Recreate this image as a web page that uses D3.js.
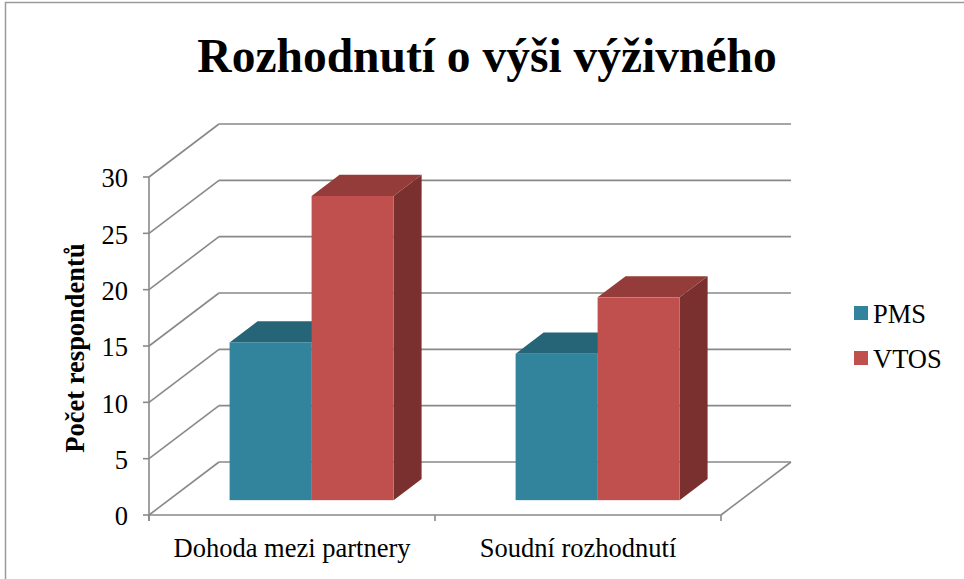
<!DOCTYPE html>
<html>
<head>
<meta charset="utf-8">
<script src="https://cdn.jsdelivr.net/npm/d3@7"></script>
<style>
  body { margin: 0; background: #fff; }
  text { font-family: "Liberation Serif", "Times New Roman", serif; }
</style>
</head>
<body>
<script>
// rozměry
var w = 964, h = 579

// data
const categories = ["Dohoda mezi partnery", "Soudní rozhodnutí"];
const series = ["PMS", "VTOS"];
const pms = [14, 13];
const vtos = [27, 18];
const yTicks = [0, 5, 10, 15, 20, 25, 30];
const chartTitle = "Rozhodnutí o výši výživného";
const yTitle = "Počet respondentů";

const colors = {
  PMS:  { front: "#31849b", top: "#266577", side: "#215868" },
  VTOS: { front: "#c0504d", top: "#943c39", side: "#7a302e" }
};

// 3D posun (hloubka)
const depthX = 70, depthY = -53;
const barFront = 0.28, barBack = 0.68;
function off(d) { return [d * depthX, d * depthY]; }

var svg = d3.select("body").append("svg")
  .attr("width", w)
  .attr("height", h);

// rámeček grafu
svg.append("rect")
  .attr("x", 5.5).attr("y", 2.5)
  .attr("width", 970).attr("height", 600)
  .attr("fill", "none")
  .attr("stroke", "#9a9a9a")
  .attr("stroke-width", 1.5);

// škály (přední rovina)
var x0 = d3.scaleBand().domain(categories).range([149, 721]);
var x1 = d3.scaleBand().domain(series).range([0, x0.bandwidth()]).paddingOuter(0.744);
var y = d3.scaleLinear().domain([0, 30]).range([515, 177]);

var grid = "#898989";
var g = svg.append("g");

// zadní stěna - mřížka
yTicks.forEach(function(t) {
  var b = off(1);
  g.append("line")
    .attr("x1", 149 + b[0]).attr("y1", y(t) + b[1])
    .attr("x2", 721 + b[0]).attr("y2", y(t) + b[1])
    .attr("stroke", grid).attr("stroke-width", 1.6);
  // levá stěna
  g.append("line")
    .attr("x1", 149).attr("y1", y(t))
    .attr("x2", 149 + b[0]).attr("y2", y(t) + b[1])
    .attr("stroke", grid).attr("stroke-width", 1.6);
});

// podlaha
var b1 = off(1);
g.append("line")
  .attr("x1", 721).attr("y1", y(0))
  .attr("x2", 721 + b1[0]).attr("y2", y(0) + b1[1])
  .attr("stroke", grid).attr("stroke-width", 1.6);

// sloupce
var bars = [];
categories.forEach(function(c, i) {
  bars.push({ cat: c, s: "PMS", v: pms[i] });
  bars.push({ cat: c, s: "VTOS", v: vtos[i] });
});

var f = off(barFront), k = off(barBack);
bars.forEach(function(d) {
  var xl = x0(d.cat) + x1(d.s) + f[0];
  var xr = xl + x1.bandwidth();
  var yb = y(0) + f[1];
  var yt = y(d.v) + f[1];
  var ddx = k[0] - f[0], ddy = k[1] - f[1];
  var col = colors[d.s];
  // bok
  g.append("path")
    .attr("d", "M" + xr + "," + yb + "L" + xr + "," + yt + "L" + (xr + ddx) + "," + (yt + ddy) +
      "L" + (xr + ddx) + "," + (yb + ddy) + "Z")
    .attr("fill", col.side);
  // vršek
  g.append("path")
    .attr("d", "M" + xl + "," + yt + "L" + xr + "," + yt + "L" + (xr + ddx) + "," + (yt + ddy) +
      "L" + (xl + ddx) + "," + (yt + ddy) + "Z")
    .attr("fill", col.top);
  // čelo
  g.append("rect")
    .attr("x", xl).attr("y", yt)
    .attr("width", x1.bandwidth()).attr("height", yb - yt)
    .attr("fill", col.front);
});

// osa Y
g.append("line")
  .attr("x1", 149).attr("y1", y(30))
  .attr("x2", 149).attr("y2", y(0) + 6)
  .attr("stroke", grid).attr("stroke-width", 1.6);
yTicks.forEach(function(t) {
  g.append("line")
    .attr("x1", 143).attr("y1", y(t))
    .attr("x2", 149).attr("y2", y(t))
    .attr("stroke", grid).attr("stroke-width", 1.6);
  svg.append("text")
    .attr("x", 128).attr("y", y(t) + 1)
    .attr("dy", "0.35em")
    .attr("text-anchor", "end")
    .attr("font-size", 26.5)
    .text(t);
});

// osa X
g.append("line")
  .attr("x1", 149).attr("y1", y(0))
  .attr("x2", 721).attr("y2", y(0))
  .attr("stroke", grid).attr("stroke-width", 1.6);
[149, 149 + x0.bandwidth(), 721].forEach(function(xx) {
  g.append("line")
    .attr("x1", xx).attr("y1", y(0))
    .attr("x2", xx).attr("y2", y(0) + 6)
    .attr("stroke", grid).attr("stroke-width", 1.6);
});
categories.forEach(function(c) {
  svg.append("text")
    .attr("x", x0(c) + x0.bandwidth() / 2)
    .attr("y", 557)
    .attr("text-anchor", "middle")
    .attr("font-size", 26.5)
    .text(c);
});

// nadpisy
svg.append("text")
  .attr("x", 487).attr("y", 72)
  .attr("text-anchor", "middle")
  .attr("font-size", 47.5)
  .attr("font-weight", "bold")
  .text(chartTitle);

svg.append("text")
  .attr("transform", "translate(84,348) rotate(-90)")
  .attr("text-anchor", "middle")
  .attr("font-size", 26.5)
  .attr("font-weight", "bold")
  .text(yTitle);

// legenda
series.forEach(function(s, i) {
  var ly = 306 + i * 45;
  svg.append("rect")
    .attr("x", 854).attr("y", ly)
    .attr("width", 14).attr("height", 14)
    .attr("fill", colors[s].front);
  svg.append("text")
    .attr("x", 873).attr("y", ly + 17)
    .attr("font-size", 26.5)
    .text(s);
});
</script>
</body>
</html>
